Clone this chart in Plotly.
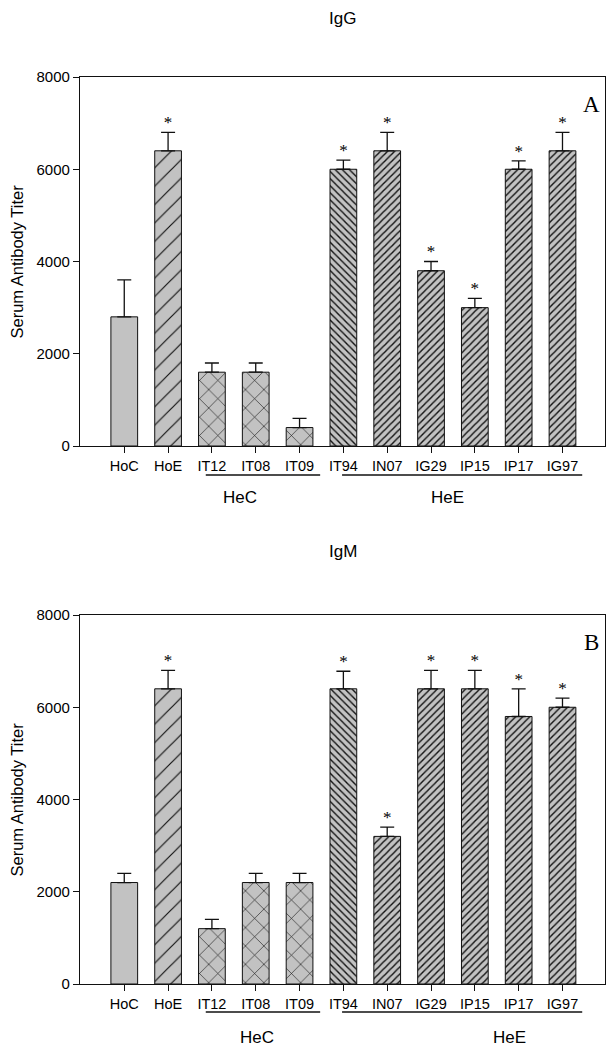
import plotly.graph_objects as go

categories = ["HoC", "HoE", "IT12", "IT08", "IT09", "IT94", "IN07", "IG29", "IP15", "IP17", "IG97"]
igg_values = [2800, 6400, 1600, 1600, 400, 6000, 6400, 3800, 3000, 6000, 6400]
igg_errors = [800, 400, 200, 200, 200, 200, 400, 200, 200, 180, 400]
igg_signif = [0, 1, 0, 0, 0, 1, 1, 1, 1, 1, 1]
igm_values = [2200, 6400, 1200, 2200, 2200, 6400, 3200, 6400, 6400, 5800, 6000]
igm_errors = [200, 400, 200, 200, 200, 380, 200, 400, 400, 600, 200]
igm_signif = [0, 1, 0, 0, 0, 1, 1, 1, 1, 1, 1]
y_ticks = [0, 2000, 4000, 6000, 8000]
panel_titles = ["IgG", "IgM"]
panel_letters = ["A", "B"]
group_names = ["HeC", "HeE"]

# styles
shapes_pat = ["", "/", "x", "x", "x", "\\", "/", "/", "/", "/", "/"]
sizes_pat = [8, 13, 13, 13, 13, 5, 5, 5, 5, 5, 5]
solid_pat = [0.1, 0.09, 0.09, 0.09, 0.09, 0.28, 0.28, 0.28, 0.28, 0.28, 0.28]
gray = "#c2c2c2"
OFF = 8                      # page body margin
PW, PH = 615, 1050           # page size
W, H = PW - OFF, PH - OFF    # figure size
AX_L, AX_R = 80, 605         # plot area, page px
font_sans = "Liberation Sans, Arial, sans-serif"
font_serif = "Liberation Serif, Times New Roman, serif"


def py(page_y):
    return 1 - (page_y - OFF) / H


def px(page_x):
    return (page_x - AX_L) / (AX_R - AX_L)


panels = [
    dict(vals=igg_values, errs=igg_errors, sig=igg_signif, top=77, bot=446,
         title_y=19, line_y=475, lab_y=498,
         lines=[(1.86, 4.47), (4.97, 10.45)], labx=[2.64, 7.37]),
    dict(vals=igm_values, errs=igm_errors, sig=igm_signif, top=615, bot=984,
         title_y=551, line_y=1012, lab_y=1037,
         lines=[(1.86, 4.47), (4.97, 10.45)], labx=[3.03, 8.78]),
]

fig = go.Figure()
xs = list(range(len(categories)))
annotations = []
shapes = []
ann_base = dict(showarrow=False, xanchor="center", yanchor="middle")
for i, p in enumerate(panels):
    xa = "x" if i == 0 else "x2"
    ya = "y" if i == 0 else "y2"
    fig.add_trace(go.Bar(
        x=xs, y=p["vals"], xaxis=xa, yaxis=ya, width=0.61,
        marker=dict(color=gray, line=dict(color="#111111", width=1),
                    pattern=dict(shape=shapes_pat, size=sizes_pat, solidity=solid_pat,
                                 fgcolor="#111111", bgcolor=gray, fillmode="replace")),
        error_y=dict(type="data", symmetric=False, array=p["errs"],
                     arrayminus=[0] * len(xs), color="#111111", thickness=1.3, width=7),
        showlegend=False, hoverinfo="skip"))
    sx = [x for x, s in zip(xs, p["sig"]) if s]
    sy = [v + e for v, e, s in zip(p["vals"], p["errs"], p["sig"]) if s]
    fig.add_trace(go.Scatter(
        x=sx, y=sy, xaxis=xa, yaxis=ya, mode="text", text=["*"] * len(sx),
        textposition="top center", textfont=dict(family=font_serif, size=17, color="black"),
        showlegend=False, hoverinfo="skip"))

    d0 = py(p["bot"])
    d1 = py(p["top"])
    axname = "xaxis" if i == 0 else "xaxis2"
    ayname = "yaxis" if i == 0 else "yaxis2"
    fig.update_layout(**{
        axname: dict(domain=[0, 1], range=[-1.01, 10.97], tickvals=xs, ticktext=categories,
                     anchor=ya, showline=True, mirror=True, linecolor="#111111", linewidth=1.3,
                     ticks="outside", ticklen=6, tickcolor="#111111", showgrid=False,
                     zeroline=False, automargin=False,
                     tickfont=dict(family=font_sans, size=14.5, color="black")),
        ayname: dict(domain=[d0, d1], range=[0, 8000], tickvals=y_ticks, anchor=xa,
                     showline=True, mirror=True, linecolor="#111111", linewidth=1.3,
                     ticks="outside", ticklen=6, tickcolor="#111111", showgrid=False,
                     zeroline=False, automargin=False,
                     tickfont=dict(family=font_sans, size=15, color="black")),
    })
    annotations.append(dict(text=panel_titles[i], xref="paper", yref="paper",
                            x=0.5, y=py(p["title_y"]), **ann_base,
                            font=dict(family=font_sans, size=17, color="black")))
    annotations.append(dict(text=panel_letters[i], xref="paper", yref="paper",
                            x=px(591), y=py(p["top"] + 27), **ann_base,
                            font=dict(family=font_serif, size=23, color="black")))
    annotations.append(dict(text="Serum Antibody Titer", xref="paper", yref="paper",
                            x=px(16), y=py((p["top"] + p["bot"]) / 2),
                            textangle=-90, **ann_base,
                            font=dict(family=font_sans, size=16.5, color="black")))
    for name, (x0, x1), cx in zip(group_names, p["lines"], p["labx"]):
        shapes.append(dict(type="line", xref=xa, yref="paper", x0=x0, x1=x1,
                           y0=py(p["line_y"]), y1=py(p["line_y"]),
                           line=dict(color="#111111", width=1.3)))
        annotations.append(dict(text=name, xref=xa, yref="paper", x=cx,
                                y=py(p["lab_y"]), **ann_base,
                                font=dict(family=font_sans, size=17, color="black")))

fig.update_layout(width=W, height=H, margin=dict(l=AX_L - OFF, r=PW - AX_R, t=0, b=0),
                  paper_bgcolor="white", plot_bgcolor="white", template="none",
                  annotations=annotations, shapes=shapes)
fig.write_html("out.html")
